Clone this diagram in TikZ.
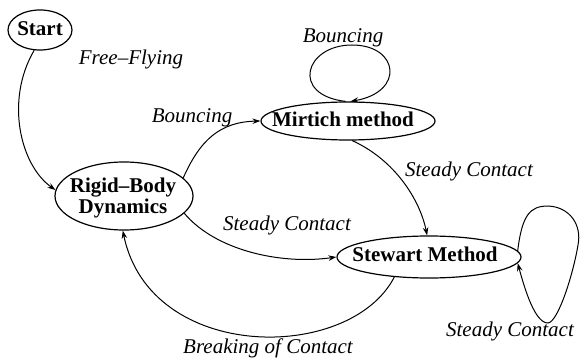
\documentclass[tikz,border=0pt]{standalone}
\usepackage{fontspec}
\setmainfont{Liberation Serif}
\usetikzlibrary{shapes.geometric,arrows.meta}
\begin{document}
\begin{tikzpicture}[x=1pt,y=-1pt,
  statebox/.style={draw,ellipse,line width=1.2pt,inner sep=0pt},
  stxt/.style={font=\fontsize{21}{21}\selectfont\bfseries,anchor=base,inner sep=0pt},
  lbl/.style={font=\fontsize{21}{24}\selectfont\itshape,anchor=base,inner sep=0pt},
  arr/.style={line width=1pt,-{Stealth[length=8pt,width=5.5pt]}}]
\useasboundingbox (0,0) rectangle (580,358);
% states
\node[statebox,minimum width=64pt,minimum height=40pt] (start) at (40,30) {};
\node[statebox,minimum width=138pt,minimum height=68pt] (rigid) at (124,196) {};
\node[statebox,minimum width=174pt,minimum height=38pt] (mirtich) at (348,121) {};
\node[statebox,minimum width=184pt,minimum height=42pt] (stewart) at (429,257) {};
\node[stxt] (startT) at (40,36) {Start};
\node[stxt] (rigidT1) at (123,192) {Rigid–Body};
\node[stxt] (rigidT2) at (123,213) {Dynamics};
\node[stxt] (mirtichT) at (343,127) {Mirtich method};
\node[stxt] (stewartT) at (425,261) {Stewart Method};
% edges
\draw[arr] (start.254) .. controls (5,100) and (20,165) .. (rigid.175);
\draw[arr] (rigid.17) .. controls (200,140) and (220,122) .. (mirtich.west);
\draw[arr] (rigid.-16) .. controls (215,250) and (280,265) .. (stewart.west);
\draw[arr] (mirtich.-78) .. controls (395,160) and (420,200) .. (stewart.95);
\draw[arr] (stewart.-150) .. controls (350,363) and (150,363) .. (rigid.-92);
\draw[arr] (mirtich.97) .. controls (290,95) and (305,45) .. (352,45)
  .. controls (399,45) and (405,92) .. (mirtich.83);
\draw[arr] (stewart.4) .. controls (522,215) and (530,206) .. (548,206)
  .. controls (570,207) and (582,225) .. (578,245)
  .. controls (573,275) and (558,322) .. (548,323)
  .. controls (535,323) and (525,290) .. (stewart.-4);
% labels
\node[lbl] (lFree) at (131,65) {Free–Flying};
\node[lbl] (lB1) at (192,123) {Bouncing};
\node[lbl] (lB2) at (343,43) {Bouncing};
\node[lbl] (lSC1) at (287,230) {Steady Contact};
\node[lbl] (lSC2) at (469,176) {Steady Contact};
\node[lbl] (lSC3) at (510,336) {Steady Contact};
\node[lbl] (lBr) at (268,353) {Breaking of Contact};
\end{tikzpicture}
\end{document}
